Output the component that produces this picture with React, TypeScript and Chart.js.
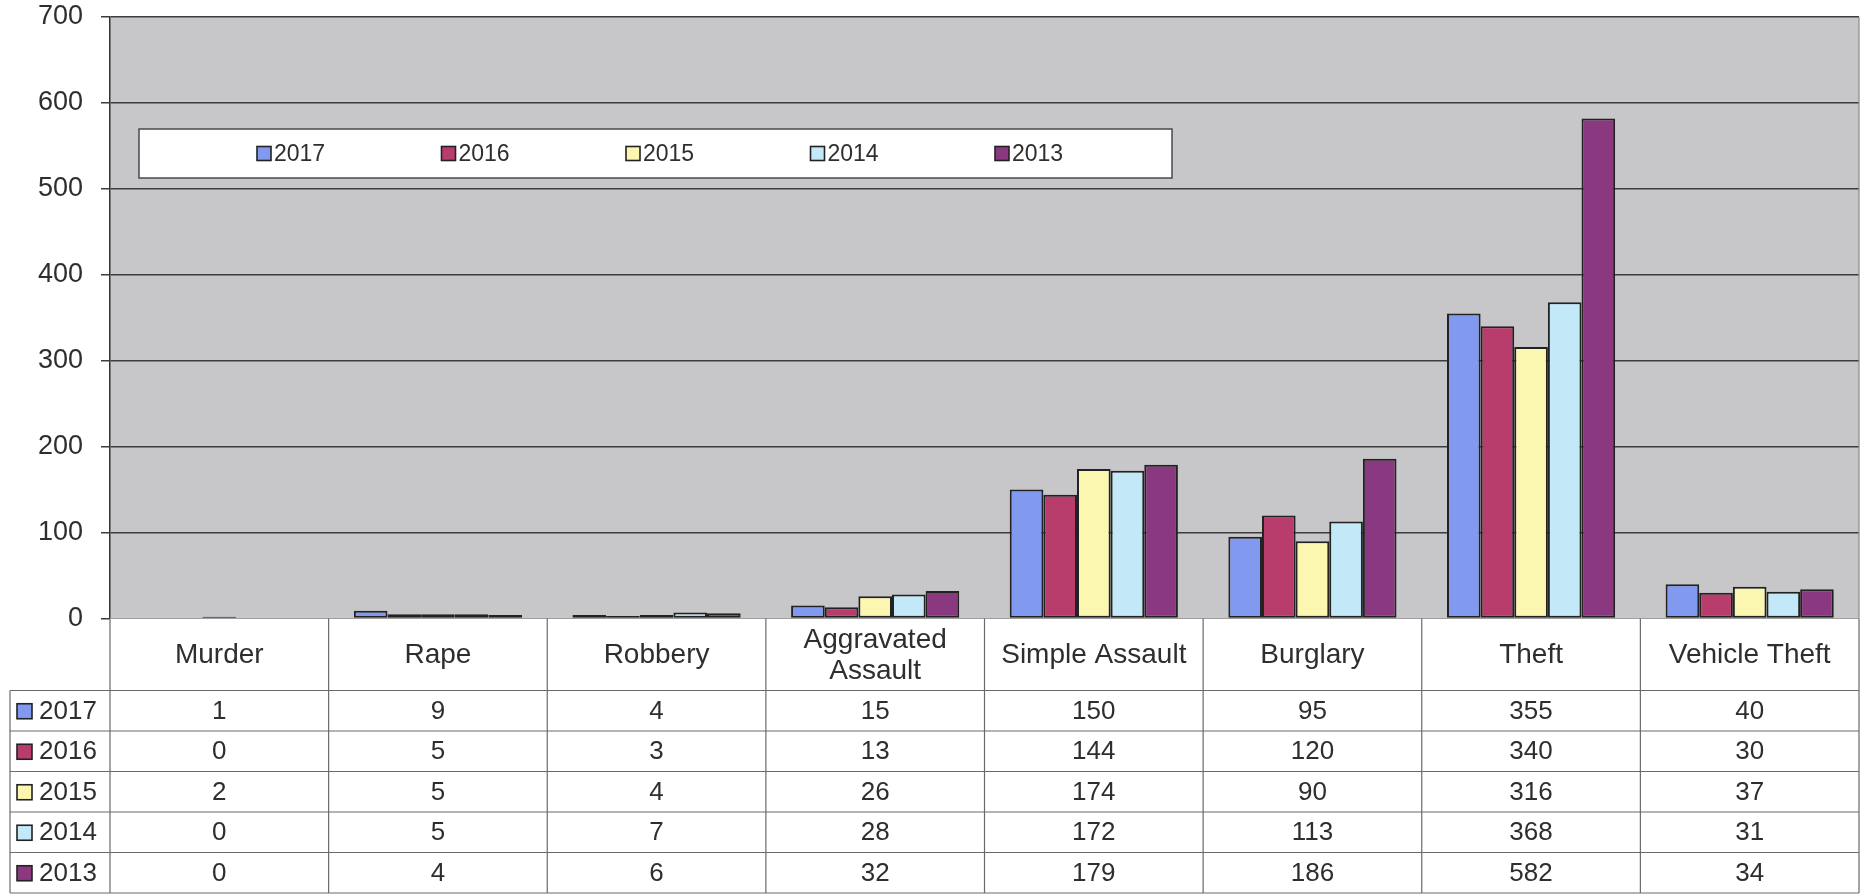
import React, { useEffect, useRef } from "react";
import { Chart, registerables } from "chart.js";

Chart.register(...registerables);

const categories = [
  "Murder",
  "Rape",
  "Robbery",
  "Aggravated Assault",
  "Simple Assault",
  "Burglary",
  "Theft",
  "Vehicle Theft",
];
const seriesNames = ["2017", "2016", "2015", "2014", "2013"];
const values2017 = [1, 9, 4, 15, 150, 95, 355, 40];
const values2016 = [0, 5, 3, 13, 144, 120, 340, 30];
const values2015 = [2, 5, 4, 26, 174, 90, 316, 37];
const values2014 = [0, 5, 7, 28, 172, 113, 368, 31];
const values2013 = [0, 4, 6, 32, 179, 186, 582, 34];
const yMin = 0;
const yMax = 700;
const yStep = 100;

const seriesValues = [values2017, values2016, values2015, values2014, values2013];
const seriesColors = ["#8199ee", "#b83c6c", "#fbf6b0", "#c3e8f8", "#8a3880"];

const FONT = '"Liberation Sans", Arial, Helvetica, sans-serif';
const TEXT = "#2e2e2e";

const backgroundPlugin = {
  id: "plotBackground",
  beforeDraw(chart: any) {
    const { ctx, chartArea } = chart;
    ctx.save();
    ctx.fillStyle = "#c7c7c9";
    ctx.fillRect(chartArea.left, chartArea.top, chartArea.right - chartArea.left, chartArea.bottom - chartArea.top);
    ctx.restore();
  },
  afterDatasetsDraw(chart: any) {
    const { ctx, chartArea } = chart;
    ctx.save();
    ctx.strokeStyle = "#8a8a8a";
    ctx.lineWidth = 1.2;
    ctx.beginPath();
    ctx.moveTo(chartArea.right, chartArea.top);
    ctx.lineTo(chartArea.right, chartArea.bottom);
    ctx.stroke();
    ctx.restore();
  },
};

const legendBoxPlugin = {
  id: "legendBox",
  afterDraw(chart: any) {
    const { ctx } = chart;
    const boxL = 139, boxT = 129, boxR = 1172, boxB = 178;
    ctx.save();
    ctx.fillStyle = "#ffffff";
    ctx.fillRect(boxL, boxT, boxR - boxL, boxB - boxT);
    ctx.strokeStyle = "#4a4a4a";
    ctx.lineWidth = 1.5;
    ctx.strokeRect(boxL, boxT, boxR - boxL, boxB - boxT);
    const cy = (boxT + boxB) / 2;
    ctx.font = `23px ${FONT}`;
    ctx.textBaseline = "middle";
    ctx.textAlign = "left";
    chart.data.datasets.forEach((ds: any, i: number) => {
      const mx = 257 + i * 184.5;
      ctx.fillStyle = ds.backgroundColor;
      ctx.fillRect(mx, cy - 7, 14, 14);
      ctx.strokeStyle = "#222";
      ctx.lineWidth = 1.6;
      ctx.strokeRect(mx, cy - 7, 14, 14);
      ctx.fillStyle = TEXT;
      ctx.fillText(ds.label, mx + 17, cy + 1);
    });
    ctx.restore();
  },
};

const dataTablePlugin = {
  id: "dataTable",
  afterDraw(chart: any) {
    const { ctx, chartArea } = chart;
    const xs = chart.scales.x;
    const n = categories.length;
    const headerTop = chartArea.bottom;
    const headerH = 72;
    const rowH = 40.5;
    const tableLeft = 10;
    const rowsTop = headerTop + headerH;
    const bottom = rowsTop + rowH * seriesNames.length;
    const bounds: number[] = [];
    for (let i = 0; i <= n; i++) bounds.push(xs.getPixelForValue(i - 0.5));
    const right = bounds[n];

    ctx.save();
    ctx.fillStyle = "#ffffff";
    ctx.fillRect(chartArea.left, headerTop, right - chartArea.left, bottom - headerTop);
    ctx.fillRect(tableLeft, rowsTop, right - tableLeft, bottom - rowsTop);

    ctx.strokeStyle = "#6a6a6a";
    ctx.lineWidth = 1.2;
    for (let r = 0; r <= seriesNames.length; r++) {
      const y = rowsTop + r * rowH;
      ctx.beginPath();
      ctx.moveTo(tableLeft, y);
      ctx.lineTo(right, y);
      ctx.stroke();
    }
    bounds.forEach((bx) => {
      ctx.beginPath();
      ctx.moveTo(bx, headerTop);
      ctx.lineTo(bx, bottom);
      ctx.stroke();
    });
    ctx.beginPath();
    ctx.moveTo(tableLeft, rowsTop);
    ctx.lineTo(tableLeft, bottom);
    ctx.stroke();

    ctx.fillStyle = TEXT;
    ctx.textAlign = "center";
    ctx.textBaseline = "middle";
    ctx.font = `28px ${FONT}`;
    categories.forEach((cat, i) => {
      const cx = (bounds[i] + bounds[i + 1]) / 2;
      const w = bounds[i + 1] - bounds[i] - 16;
      let lines = [cat];
      if (ctx.measureText(cat).width > w) lines = cat.split(" ");
      const lh = 31;
      const cy = headerTop + headerH / 2;
      lines.forEach((ln, k) => {
        ctx.fillText(ln, cx, cy + (k - (lines.length - 1) / 2) * lh + 1);
      });
    });

    ctx.font = `26px ${FONT}`;
    seriesNames.forEach((name, r) => {
      const cy = rowsTop + r * rowH + rowH / 2 + 1;
      const vals = seriesValues[r];
      ctx.textAlign = "center";
      ctx.fillStyle = TEXT;
      vals.forEach((v, i) => {
        const cx = (bounds[i] + bounds[i + 1]) / 2;
        ctx.fillText(String(v), cx, cy);
      });
      ctx.fillStyle = seriesColors[r];
      ctx.fillRect(17, cy - 8, 15, 15);
      ctx.strokeStyle = "#222";
      ctx.lineWidth = 1.6;
      ctx.strokeRect(17, cy - 8, 15, 15);
      ctx.fillStyle = TEXT;
      ctx.textAlign = "left";
      ctx.fillText(name, 39, cy);
    });
    ctx.restore();
  },
};

export default function App() {
  const canvasRef = useRef<HTMLCanvasElement | null>(null);

  useEffect(() => {
    document.body.style.margin = "0";
    document.body.style.background = "#ffffff";
    const canvas = canvasRef.current;
    if (!canvas) return;
    const chart = new Chart(canvas, {
      type: "bar",
      data: {
        labels: categories,
        datasets: seriesNames.map((name, i) => ({
          label: name,
          data: seriesValues[i],
          backgroundColor: seriesColors[i],
          borderColor: "#222222",
          borderWidth: 2,
          borderSkipped: false,
          categoryPercentage: 5 / 6.5,
          barPercentage: 1,
        })),
      },
      options: {
        animation: false,
        responsive: false,
        devicePixelRatio: 1,
        layout: { padding: { top: 17, right: 6, bottom: 275.5, left: 0 } },
        plugins: {
          legend: { display: false },
          tooltip: { enabled: false },
        },
        scales: {
          x: {
            display: false,
          },
          y: {
            min: yMin,
            max: yMax,
            afterFit: (scale: any) => {
              scale.width = 110;
              scale.paddingTop = 0;
              scale.paddingBottom = 0;
            },
            ticks: {
              stepSize: yStep,
              padding: 18,
              color: TEXT,
              font: { family: FONT, size: 27, lineHeight: 1 },
            },
            grid: {
              color: "#3c3c3c",
              lineWidth: 1.5,
              tickLength: 9,
              tickColor: "#3c3c3c",
              tickWidth: 1.5,
            },
            border: { display: true, color: "#333333", width: 1.5 },
          },
        },
      },
      plugins: [backgroundPlugin, legendBoxPlugin, dataTablePlugin],
    });
    return () => chart.destroy();
  }, []);

  return (
    <div style={{ width: 1865, height: 894, position: "relative", background: "#fff" }}>
      <canvas ref={canvasRef} width={1865} height={894} style={{ display: "block" }} />
    </div>
  );
}
